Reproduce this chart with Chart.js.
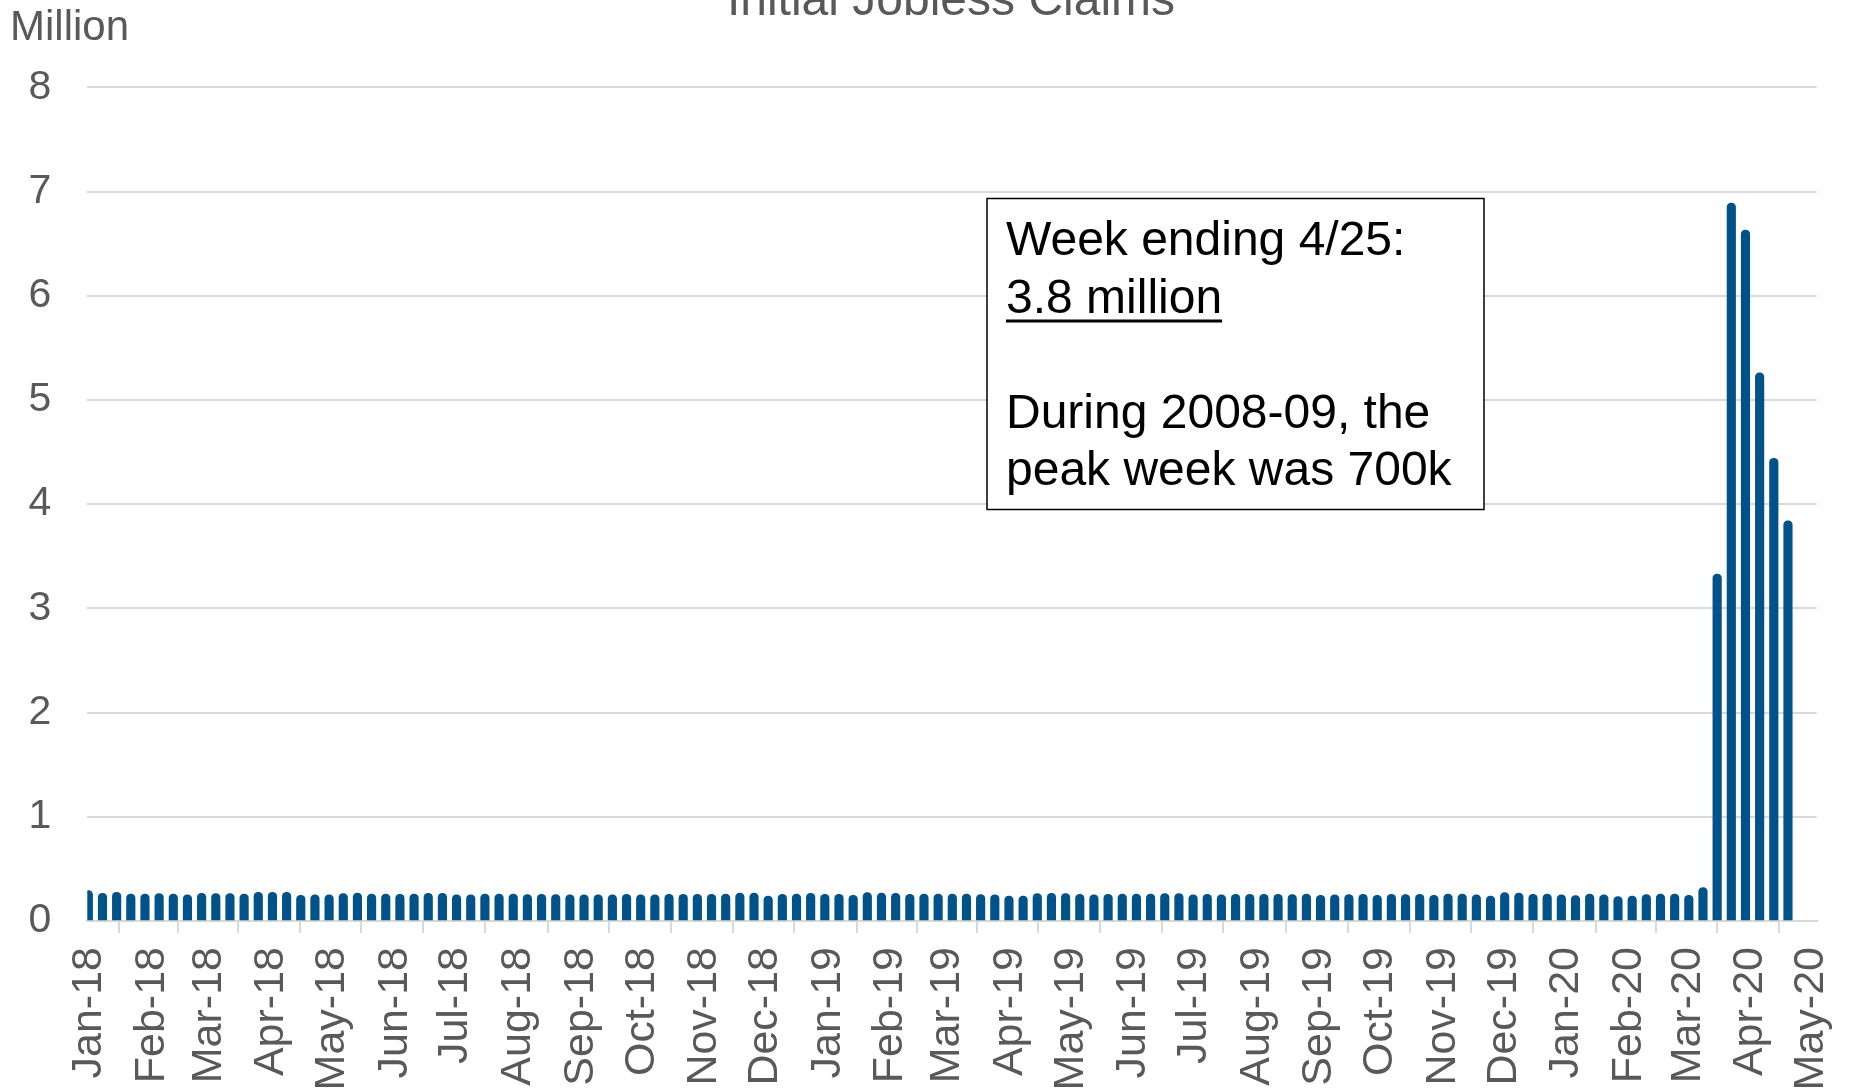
<!DOCTYPE html>
<html>
<head>
<meta charset="utf-8">
<title>Initial Jobless Claims</title>
<script src="https://cdn.jsdelivr.net/npm/chart.js@4.4.1/dist/chart.umd.min.js"></script>
<style>
  html, body { margin: 0; padding: 0; background: #fff; }
</style>
</head>
<body>
<canvas id="claims" width="1849" height="1089"></canvas>
<script>
// Weekly initial jobless claims (millions), weeks ending Saturday
const chartTitle = 'Initial Jobless Claims';
const unitLabel = 'Million';
const firstWeekEnding = '2018-01-06';

const claims = [
  0.291, 0.266, 0.275, 0.259, 0.259, 0.262, 0.259, 0.250, 0.266, 0.262,
  0.262, 0.259, 0.275, 0.275, 0.275, 0.246, 0.250, 0.250, 0.262, 0.269,
  0.259, 0.259, 0.256, 0.259, 0.266, 0.266, 0.250, 0.250, 0.259, 0.259,
  0.259, 0.253, 0.256, 0.253, 0.250, 0.250, 0.250, 0.250, 0.256, 0.250,
  0.250, 0.256, 0.256, 0.256, 0.256, 0.259, 0.269, 0.269, 0.240, 0.256,
  0.259, 0.266, 0.256, 0.256, 0.246, 0.272, 0.269, 0.266, 0.256, 0.259,
  0.259, 0.259, 0.259, 0.253, 0.250, 0.240, 0.240, 0.262, 0.266, 0.262,
  0.256, 0.250, 0.256, 0.259, 0.259, 0.259, 0.262, 0.262, 0.250, 0.256,
  0.250, 0.256, 0.256, 0.256, 0.256, 0.253, 0.259, 0.246, 0.250, 0.253,
  0.256, 0.246, 0.256, 0.253, 0.256, 0.246, 0.259, 0.259, 0.250, 0.240,
  0.272, 0.269, 0.256, 0.259, 0.250, 0.243, 0.259, 0.250, 0.234, 0.240,
  0.253, 0.259, 0.259, 0.246, 0.320, 3.33, 6.89, 6.63, 5.26, 4.44,
  3.84
];

const monthLabels = [
  'Jan-18', 'Feb-18', 'Mar-18', 'Apr-18', 'May-18', 'Jun-18', 'Jul-18', 'Aug-18',
  'Sep-18', 'Oct-18', 'Nov-18', 'Dec-18', 'Jan-19', 'Feb-19', 'Mar-19', 'Apr-19',
  'May-19', 'Jun-19', 'Jul-19', 'Aug-19', 'Sep-19', 'Oct-19', 'Nov-19', 'Dec-19',
  'Jan-20', 'Feb-20', 'Mar-20', 'Apr-20', 'May-20'
];

const noteLines = ['Week ending 4/25:', '3.8 million', '', 'During 2008-09, the', 'peak week was 700k'];

const DAY = 86400000;
const origin = Date.parse(firstWeekEnding);
const weeks = claims.map((v, i) => new Date(origin + i * 7 * DAY));

// date axis in days from the first week; a bar sits mid-day, month ticks on the 6th
const points = claims.map((v, i) => ({ x: (weeks[i] - origin) / DAY + 0.5, y: v }));
const monthTicks = monthLabels.map((lbl, i) => (Date.UTC(2018, i, 6) - origin) / DAY);

const grey = '#595959';
const rule = '#d9d9d9';
const fontFamily = "'Liberation Sans', Arial, sans-serif";
Chart.defaults.font.family = fontFamily;

const decorations = {
    id: 'decorations',
    afterDraw(chart) {
        const ctx = chart.ctx;
        ctx.save();

        ctx.fillStyle = grey;
        ctx.textBaseline = 'alphabetic';
        ctx.font = '48px ' + fontFamily;
        ctx.textAlign = 'center';
        ctx.fillText(chartTitle, 951, 15);

        ctx.font = '42px ' + fontFamily;
        ctx.textAlign = 'left';
        ctx.fillText(unitLabel, 10, 39.5);

        // note box
        const box = { x: 987, y: 198.5, w: 497, h: 311 };
        ctx.fillStyle = '#fff';
        ctx.fillRect(box.x, box.y, box.w, box.h);
        ctx.strokeStyle = '#000';
        ctx.lineWidth = 1.5;
        ctx.strokeRect(box.x, box.y, box.w, box.h);

        ctx.fillStyle = '#000';
        ctx.font = '48px ' + fontFamily;
        noteLines.forEach((line, i) => {
            const y = 255 + i * 57.5;
            ctx.fillText(line, 1006, y);
            if (i === 1) {
                const w = ctx.measureText(line).width;
                ctx.fillRect(1006, y + 7, w, 3);
            }
        });
        ctx.restore();
    }
};

new Chart(document.getElementById('claims'), {
    type: 'bar',
    data: {
        datasets: [{
            label: 'Initial claims',
            data: points,
            backgroundColor: '#005288',
            barThickness: 8.5,
            borderRadius: { topLeft: 4.25, topRight: 4.25, bottomLeft: 0, bottomRight: 0 },
            borderSkipped: 'start',
            clip: 0
        }]
    },
    options: {
        responsive: false,
        animation: false,
        devicePixelRatio: 1,
        layout: { padding: { top: 87.3, right: 32.3, bottom: 0, left: 0 } },
        plugins: {
            legend: { display: false },
            title: { display: false },
            tooltip: { enabled: false }
        },
        scales: {
            x: {
                type: 'linear',
                min: 0,
                max: 854.7,
                offset: false,
                z: 1,
                grid: { drawOnChartArea: false, drawTicks: true, tickLength: 12, color: rule, lineWidth: 2 },
                border: { display: true, color: rule, width: 2 },
                ticks: {
                    autoSkip: false,
                    minRotation: 90,
                    maxRotation: 90,
                    padding: 14,
                    labelOffset: 2,
                    color: grey,
                    font: { size: 43 },
                    callback: (value, index) => monthLabels[index]
                },
                afterBuildTicks: scale => {
                    scale.ticks = monthTicks.map(v => ({ value: v }));
                },
                afterFit: scale => {
                    scale.height = 168;
                    scale.paddingLeft = 0;
                    scale.paddingRight = 0;
                }
            },
            y: {
                min: 0,
                max: 8,
                grid: { color: rule, lineWidth: 2, drawTicks: false },
                border: { display: false },
                ticks: { stepSize: 1, color: grey, font: { size: 41 }, padding: 36 },
                afterFit: scale => {
                    scale.width = 87.3;
                    scale.paddingTop = 0;
                    scale.paddingBottom = 0;
                }
            }
        }
    },
    plugins: [decorations]
});
</script>
</body>
</html>
